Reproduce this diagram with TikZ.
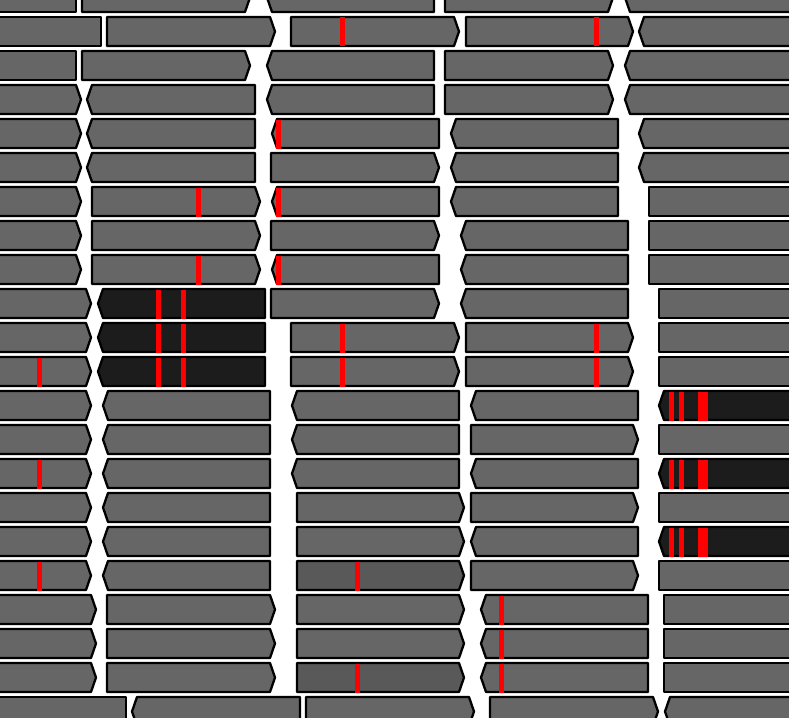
\documentclass[tikz,border=0pt]{standalone}
\usepackage{tikz}
\usepackage{xcolor}

\definecolor{genefill}{HTML}{666666}
\definecolor{genemid}{HTML}{595959}
\definecolor{genedark}{HTML}{1C1C1C}

% row, left, right, left tip, right tip, fill
\newcommand{\gene}[6]{%
  \draw[gene, fill=#6] ({#2+1+#4},{34*#1-17}) -- ({#3-1-#5},{34*#1-17})
    -- ({#3-1},{34*#1-2.5}) -- ({#3-1-#5},{34*#1+12})
    -- ({#2+1+#4},{34*#1+12}) -- ({#2+1},{34*#1-2.5}) -- cycle;}
% row, left, width
\newcommand{\snp}[3]{%
  \fill[red] (#2,{34*#1-16.5}) rectangle ({#2+#3},{34*#1+12.5});}

\begin{document}
\begin{tikzpicture}[x=1pt, y=-1pt, gene/.style={draw=black, line width=2.3pt, line join=round}]
    \useasboundingbox (0,0) rectangle (789,717);
    \clip (0,0) rectangle (789,717);

    % gene rows
    \foreach \r/\a/\b/\p/\q/\c in {
      0/-20/77/0/0/genefill, 0/81/251/0/5/genefill, 0/266/435/5/0/genefill, 0/444/614/0/5/genefill, 0/624/820/5/0/genefill,
      1/-20/102/0/0/genefill, 1/106/276/0/5/genefill, 1/290/460/0/5/genefill, 1/465/634/0/5/genefill, 1/638/820/5/0/genefill,
      2/-20/77/0/0/genefill, 2/81/251/0/5/genefill, 2/266/435/5/0/genefill, 2/444/614/0/5/genefill, 2/624/820/5/0/genefill,
      3/-20/82/0/5/genefill, 3/86/256/5/0/genefill, 3/266/435/5/0/genefill, 3/444/614/0/5/genefill, 3/624/820/5/0/genefill,
      4/-20/82/0/5/genefill, 4/86/256/5/0/genefill, 4/271/440/5/0/genefill, 4/450/619/5/0/genefill, 4/638/820/5/0/genefill,
      5/-20/82/0/5/genefill, 5/86/256/5/0/genefill, 5/270/440/0/5/genefill, 5/450/619/5/0/genefill, 5/638/820/5/0/genefill,
      6/-20/82/0/5/genefill, 6/91/261/0/5/genefill, 6/271/440/5/0/genefill, 6/450/619/5/0/genefill, 6/648/820/0/0/genefill,
      7/-20/82/0/5/genefill, 7/91/261/0/5/genefill, 7/270/440/0/5/genefill, 7/460/629/5/0/genefill, 7/648/820/0/0/genefill,
      8/-20/82/0/5/genefill, 8/91/261/0/5/genefill, 8/271/440/5/0/genefill, 8/460/629/5/0/genefill, 8/648/820/0/0/genefill,
      9/-20/92/0/5/genefill, 9/97/266/5/0/genedark, 9/270/440/0/5/genefill, 9/460/629/5/0/genefill, 9/658/820/0/0/genefill,
      10/-20/92/0/5/genefill, 10/97/266/5/0/genedark, 10/290/460/0/5/genefill, 10/465/634/0/5/genefill, 10/658/820/0/0/genefill,
      11/-20/92/0/5/genefill, 11/97/266/5/0/genedark, 11/290/460/0/5/genefill, 11/465/634/0/5/genefill, 11/658/820/0/0/genefill,
      12/-20/92/0/5/genefill, 12/102/271/5/0/genefill, 12/291/460/5/0/genefill, 12/470/639/5/0/genefill, 12/658/820/5/0/genedark,
      13/-20/92/0/5/genefill, 13/102/271/5/0/genefill, 13/291/460/5/0/genefill, 13/470/639/0/5/genefill, 13/658/820/0/0/genefill,
      14/-20/92/0/5/genefill, 14/102/271/5/0/genefill, 14/291/460/5/0/genefill, 14/470/639/5/0/genefill, 14/658/820/5/0/genedark,
      15/-20/92/0/5/genefill, 15/102/271/5/0/genefill, 15/296/465/0/5/genefill, 15/470/639/0/5/genefill, 15/658/820/0/0/genefill,
      16/-20/92/0/5/genefill, 16/102/271/5/0/genefill, 16/296/465/0/5/genefill, 16/470/639/5/0/genefill, 16/658/820/5/0/genedark,
      17/-20/92/0/5/genefill, 17/102/271/5/0/genefill, 17/296/465/0/5/genemid, 17/470/639/0/5/genefill, 17/658/820/0/0/genefill,
      18/-20/97/0/5/genefill, 18/106/276/0/5/genefill, 18/296/465/0/5/genefill, 18/480/649/5/0/genefill, 18/663/820/0/0/genefill,
      19/-20/97/0/5/genefill, 19/106/276/0/5/genefill, 19/296/465/0/5/genefill, 19/480/649/5/0/genefill, 19/663/820/0/0/genefill,
      20/-20/97/0/5/genefill, 20/106/276/0/5/genefill, 20/296/465/0/5/genemid, 20/480/649/5/0/genefill, 20/663/820/0/0/genefill,
      21/-20/127/0/0/genefill, 21/131/301/5/0/genefill, 21/305/475/0/5/genefill, 21/489/659/0/5/genefill, 21/664/820/5/0/genefill}
      \gene{\r}{\a}{\b}{\p}{\q}{\c};

    % red marks
    \foreach \r/\x/\w in {
      1/340/5, 1/594/5,
      4/276/5,
      6/196/5, 6/276/5,
      8/196/5, 8/276/5,
      9/156/5, 9/181/5,
      10/156/5, 10/181/5, 10/340/5, 10/594/5,
      11/37/5, 11/156/5, 11/181/5, 11/340/5, 11/594/5,
      12/669/5, 12/679/5, 12/698/10,
      14/37/5, 14/669/5, 14/679/5, 14/698/10,
      16/669/5, 16/679/5, 16/698/10,
      17/37/5, 17/355/5,
      18/499/5, 19/499/5,
      20/355/5, 20/499/5}
      \snp{\r}{\x}{\w};
\end{tikzpicture}
\end{document}
